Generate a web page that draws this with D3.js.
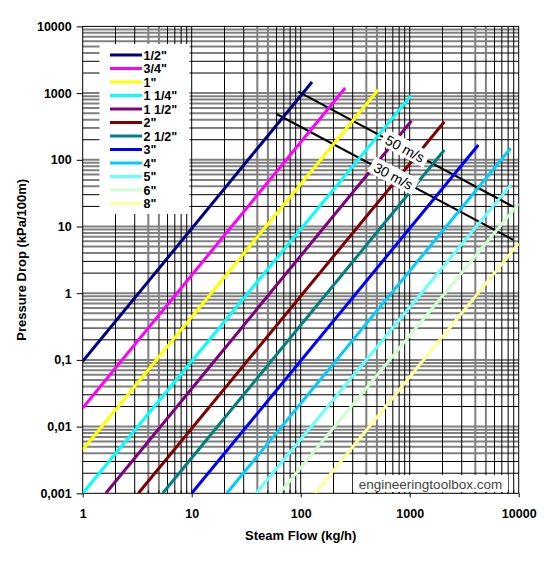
<!DOCTYPE html>
<html>
<head>
<meta charset="utf-8">
<script src="https://cdn.jsdelivr.net/npm/d3@7"></script>
<style>
  body { margin: 0; background: #fff; }
  text { font-family: "Liberation Sans", Arial, sans-serif; }
</style>
</head>
<body>
<svg id="chart" width="555" height="562"></svg>
<script>
// pipe sizes and their lines (two points each, straight on log-log)
const sizes = ['1/2"', '3/4"', '1"', '1 1/4"', '1 1/2"', '2"', '2 1/2"', '3"', '4"', '5"', '6"', '8"'];
const colors = ['#000080', '#ff00ff', '#ffff00', '#00ffff', '#800080', '#800000',
	'#008080', '#0000ff', '#00ccff', '#66ffff', '#ccffcc', '#ffff99'];
const flowStart = [1, 1, 1, 1, 1.63, 3.24, 5.42, 10, 21, 39, 64, 135];
const dropStart = [0.095, 0.019, 0.0045, 0.001, 0.001, 0.001, 0.001, 0.001, 0.001, 0.001, 0.001, 0.001];
const flowEnd = [127, 256, 514, 1025, 1040, 2080, 2080, 4260, 8440, 8440, 10000, 10000];
const dropEnd = [1470, 1190, 1120, 910, 386, 372, 140, 167, 149, 42, 22, 5.6];

// velocity lines
const velocities = ['50 m/s', '30 m/s'];
const velFlow = [[95, 8900], [60, 8900]];
const velDrop = [[1050, 19.8], [486, 6.3]];
const velLabelFlow = [905, 707];

const xTicks = [1, 10, 100, 1000, 10000];
const xTickLabels = ['1', '10', '100', '1000', '10000'];
const yTicks = [0.001, 0.01, 0.1, 1, 10, 100, 1000, 10000];
const yTickLabels = ['0,001', '0,01', '0,1', '1', '10', '100', '1000', '10000'];

const svg = d3.select('#chart');
const pl = 82.7, pr = 518.7, pt = 26.4, pb = 493.3;

const x = d3.scaleLog().domain([1, 10000]).range([pl, pr]);
const y = d3.scaleLog().domain([0.001, 10000]).range([pb, pt]);

svg.append('defs').append('clipPath').attr('id', 'plot')
	.append('rect').attr('x', pl).attr('y', pt)
	.attr('width', pr - pl).attr('height', pb - pt);

const grid = svg.append('g');

// minor grid: black and grey lines mixed like the original
const vBlack = [2, 3, 6, 7, 8, 9], vGrey = [4, 5];
const hBlack = [2, 3], hGrey = [4, 5, 6, 7, 8, 9];

const xMinor = (list) => xTicks.slice(0, -1).flatMap(d => list.map(m => m * d));
const yMinor = (list) => yTicks.slice(0, -1).flatMap(d => list.map(m => m * d));

grid.selectAll('.vg').data(xMinor(vGrey)).join('line')
	.attr('class', 'vg')
	.attr('x1', d => x(d)).attr('x2', d => x(d)).attr('y1', pt).attr('y2', pb)
	.attr('stroke', '#808080').attr('stroke-width', 2);
grid.selectAll('.hg').data(yMinor(hGrey).concat(yTicks.slice(1, -1))).join('line')
	.attr('class', 'hg')
	.attr('y1', d => y(d)).attr('y2', d => y(d)).attr('x1', pl).attr('x2', pr)
	.attr('stroke', '#808080').attr('stroke-width', 2);
grid.selectAll('.vb').data(xMinor(vBlack).concat(xTicks.slice(1, -1))).join('line')
	.attr('class', 'vb')
	.attr('x1', d => x(d)).attr('x2', d => x(d)).attr('y1', pt).attr('y2', pb)
	.attr('stroke', '#000').attr('stroke-width', 1);
grid.selectAll('.hb').data(yMinor(hBlack)).join('line')
	.attr('class', 'hb')
	.attr('y1', d => y(d)).attr('y2', d => y(d)).attr('x1', pl).attr('x2', pr)
	.attr('stroke', '#000').attr('stroke-width', 1);

// plot frame
svg.append('rect').attr('x', pl).attr('y', pt)
	.attr('width', pr - pl).attr('height', pb - pt)
	.attr('fill', 'none').attr('stroke', '#000').attr('stroke-width', 1);

// axes
const yAxis = d3.axisLeft(y).tickValues(yTicks).tickFormat((d, i) => yTickLabels[i])
	.tickSize(6).tickPadding(5);
const gy = svg.append('g').attr('transform', `translate(${pl},0)`).call(yAxis);
gy.select('.domain').remove();
gy.selectAll('text').attr('font-size', 12.5).attr('font-weight', 'bold').attr('fill', '#000');

const xAxis = d3.axisBottom(x).tickValues(xTicks).tickFormat((d, i) => xTickLabels[i])
	.tickSize(4).tickPadding(12);
const gx = svg.append('g').attr('transform', `translate(0,${pb})`).call(xAxis);
gx.select('.domain').remove();
gx.selectAll('text').attr('font-size', 12.5).attr('font-weight', 'bold').attr('fill', '#000');

// small inward minor ticks on the bottom axis
svg.append('g').selectAll('line').data(xMinor([2, 3, 4, 5, 6, 7, 8, 9])).join('line')
	.attr('x1', d => x(d)).attr('x2', d => x(d)).attr('y1', pb - 3).attr('y2', pb)
	.attr('stroke', '#000');

// watermark box
svg.append('rect').attr('x', 353).attr('y', 475).attr('width', 155).attr('height', 17)
	.attr('fill', '#fff');
svg.append('text').attr('x', 430.5).attr('y', 488.5).attr('text-anchor', 'middle')
	.attr('font-size', 13.5).attr('fill', '#444').text('engineeringtoolbox.com');

const plot = svg.append('g').attr('clip-path', 'url(#plot)');

// velocity lines
const vel = plot.append('g');
velocities.forEach((name, i) => {
	vel.append('line')
		.attr('x1', x(velFlow[i][0])).attr('y1', y(velDrop[i][0]))
		.attr('x2', x(velFlow[i][1])).attr('y2', y(velDrop[i][1]))
		.attr('stroke', '#000').attr('stroke-width', 2);
});

// pipe size lines
plot.append('g').selectAll('line').data(sizes).join('line')
	.attr('x1', (d, i) => x(flowStart[i])).attr('y1', (d, i) => y(dropStart[i]))
	.attr('x2', (d, i) => x(flowEnd[i])).attr('y2', (d, i) => y(dropEnd[i]))
	.attr('stroke', (d, i) => colors[i]).attr('stroke-width', 3);

// velocity labels along their lines
velocities.forEach((name, i) => {
	const lx0 = Math.log10(velFlow[i][0]), lx1 = Math.log10(velFlow[i][1]);
	const ly0 = Math.log10(velDrop[i][0]), ly1 = Math.log10(velDrop[i][1]);
	const t = (Math.log10(velLabelFlow[i]) - lx0) / (lx1 - lx0);
	const drop = Math.pow(10, ly0 + t * (ly1 - ly0));
	const px = x(velLabelFlow[i]), py = y(drop);
	const angle = Math.atan2(y(velDrop[i][1]) - y(velDrop[i][0]),
		x(velFlow[i][1]) - x(velFlow[i][0])) * 180 / Math.PI;
	const g = svg.append('g').attr('transform', `translate(${px},${py}) rotate(${angle})`);
	g.append('rect').attr('x', -25).attr('y', -9).attr('width', 50).attr('height', 17).attr('fill', '#fff');
	g.append('text').attr('text-anchor', 'middle').attr('y', 5)
		.attr('font-size', 14).attr('fill', '#000').text(name);
});

// legend
const legend = svg.append('g');
legend.append('rect').attr('x', 99.5).attr('y', 44).attr('width', 90).attr('height', 170).attr('fill', '#fff');
const rows = legend.selectAll('g').data(sizes).join('g')
	.attr('transform', (d, i) => `translate(0,${55 + i * 13.5})`);
rows.append('line').attr('x1', 110).attr('x2', 142).attr('y1', 0).attr('y2', 0)
	.attr('stroke', (d, i) => colors[i]).attr('stroke-width', 3);
rows.append('text').attr('x', 143.5).attr('y', 4.5).attr('font-size', 12.5).attr('font-weight', 'bold')
	.text(d => d);

// axis titles
svg.append('text').attr('x', (pl + pr) / 2).attr('y', 540).attr('text-anchor', 'middle')
	.attr('font-size', 13).attr('font-weight', 'bold').text('Steam Flow (kg/h)');
svg.append('text').attr('transform', `translate(26,${(pt + pb) / 2}) rotate(-90)`)
	.attr('text-anchor', 'middle').attr('font-size', 13).attr('font-weight', 'bold')
	.text('Pressure Drop (kPa/100m)');
</script>
</body>
</html>
